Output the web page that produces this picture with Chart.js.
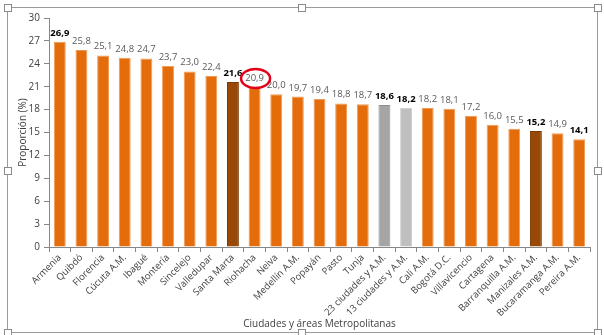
<!DOCTYPE html>
<html>
<head>
<meta charset="utf-8">
<script src="https://cdn.jsdelivr.net/npm/chart.js@4/dist/chart.umd.min.js"></script>
<style>
  body { margin: 0; background: #fff; }
  #wrap { position: relative; width: 604px; height: 335px; overflow: hidden; }
  #chart { position: absolute; left: 0; top: 0; }
  .frame { position: absolute; left: 7px; top: 7px; width: 589px; height: 324px; border: 1px solid #9a9a9a; pointer-events: none; }
  .handle { position: absolute; width: 6px; height: 6px; background: #fff; border: 1px solid #8a8a8a; pointer-events: none; }
</style>
</head>
<body>
<div id="wrap">
  <canvas id="chart" width="604" height="335"></canvas>
  <div class="frame"></div>
</div>
<script>
// DATA

var cities = ['Armenia', 'Quibdó', 'Florencia', 'Cúcuta A.M.', 'Ibagué', 'Montería', 'Sincelejo',
  'Valledupar', 'Santa Marta', 'Riohacha', 'Neiva', 'Medellín A.M.', 'Popayán', 'Pasto', 'Tunja',
  '23 ciudades y A.M.', '13 ciudades y A.M.', 'Cali A.M.', 'Bogotá D.C.', 'Villavicencio',
  'Cartagena', 'Barranquilla A.M.', 'Manizales A.M.', 'Bucaramanga A.M.', 'Pereira A.M.'];

var proportion = [26.9, 25.8, 25.1, 24.8, 24.7, 23.7, 23.0, 22.4, 21.6, 20.9, 20.0, 19.7, 19.4,
  18.8, 18.7, 18.6, 18.2, 18.2, 18.1, 17.2, 16.0, 15.5, 15.2, 14.9, 14.1];

// bar kind: 'o' orange, 'd' dark brown, 'g' aggregate dark gray, 'l' aggregate light gray
var kinds = ['o', 'o', 'o', 'o', 'o', 'o', 'o', 'o', 'd', 'o', 'o', 'o', 'o', 'o', 'o',
  'g', 'l', 'o', 'o', 'o', 'o', 'o', 'd', 'o', 'o'];

var boldLabels = ['Armenia', 'Santa Marta', '23 ciudades y A.M.', '13 ciudades y A.M.',
  'Manizales A.M.', 'Pereira A.M.'];

var circled = 'Riohacha';

var yTicks = [0, 3, 6, 9, 12, 15, 18, 21, 24, 27, 30];

// COLOURS

var fills = { o: '#E46C0A', d: '#984807', g: '#A5A5A5', l: '#BFBFBF' };
var edges = { o: '#EE9A55', d: '#7A3A06', g: '#8E8E8E', l: '#D0D0D0' };

var axisGray = '#868686';
var textGray = '#404040';

// SELECTION HANDLES (Word frame around the chart)

[[7, 7], [301, 7], [597, 7], [7, 170], [597, 170], [7, 332], [301, 332], [597, 332]].forEach(function (p) {
  var h = document.createElement('div');
  h.className = 'handle';
  h.style.left = (p[0] - 3.5) + 'px';
  h.style.top = (p[1] - 3.5) + 'px';
  document.getElementById('wrap').appendChild(h);
});

// PLUGINS

var valueLabels = {
  id: 'valueLabels',
  afterDatasetsDraw: function (chart) {
    var ctx = chart.ctx;
    var meta = chart.getDatasetMeta(0);
    ctx.save();
    ctx.textAlign = 'center';
    ctx.textBaseline = 'bottom';
    meta.data.forEach(function (bar, i) {
      var bold = boldLabels.indexOf(cities[i]) !== -1;
      ctx.font = (bold ? 'bold ' : '') + '9.5px "Open Sans"';
      ctx.fillStyle = bold ? '#000' : '#595959';
      ctx.fillText(proportion[i].toFixed(1).replace('.', ','), bar.x, bar.y - 4);
    });
    ctx.restore();
  }
};

var circleMark = {
  id: 'circleMark',
  afterDraw: function (chart) {
    var i = cities.indexOf(circled);
    var bar = chart.getDatasetMeta(0).data[i];
    var ctx = chart.ctx;
    ctx.save();
    ctx.strokeStyle = '#E2001A';
    ctx.lineWidth = 2.5;
    ctx.beginPath();
    ctx.ellipse(bar.x + 1, bar.y - 9, 14.5, 9.5, 0, 0, Math.PI * 2);
    ctx.stroke();
    ctx.restore();
  }
};

// CHART

new Chart(document.getElementById('chart'), {
  type: 'bar',
  data: {
    labels: cities,
    datasets: [{
      data: proportion,
      backgroundColor: kinds.map(function (k) { return fills[k]; }),
      borderColor: kinds.map(function (k) { return edges[k]; }),
      borderWidth: 1,
      categoryPercentage: 1,
      barPercentage: 0.55
    }]
  },
  options: {
    responsive: false,
    animation: false,
    events: [],
    layout: { padding: { left: 0, top: 18, right: 14, bottom: 0 } },
    plugins: { legend: { display: false }, tooltip: { enabled: false } },
    scales: {
      x: {
        afterFit: function (s) { s.height = 88; },
        border: { display: true, color: axisGray, width: 1 },
        grid: { drawOnChartArea: false, drawTicks: true, tickLength: 5, color: axisGray, offset: true },
        ticks: {
          autoSkip: false,
          minRotation: 45,
          maxRotation: 45,
          padding: 0,
          color: textGray,
          font: { family: '"Open Sans"', size: 9.5 }
        },
        title: {
          display: true,
          text: 'Ciudades y áreas Metropolitanas',
          color: textGray,
          font: { family: '"Open Sans"', size: 10 },
          padding: { top: 0, bottom: 5 }
        }
      },
      y: {
        min: 0,
        max: 30,
        afterFit: function (s) { s.width = 49; },
        afterBuildTicks: function (s) { s.ticks = yTicks.map(function (v) { return { value: v }; }); },
        border: { display: true, color: axisGray, width: 1 },
        grid: { drawOnChartArea: false, drawTicks: true, tickLength: 5, color: axisGray },
        ticks: {
          padding: 4,
          color: textGray,
          font: { family: '"Open Sans"', size: 10 }
        },
        title: {
          display: true,
          text: 'Proporción (%)',
          color: textGray,
          font: { family: '"Open Sans"', size: 10 },
          padding: { top: 17, bottom: 0 }
        }
      }
    }
  },
  plugins: [valueLabels, circleMark]
});
</script>
</body>
</html>
